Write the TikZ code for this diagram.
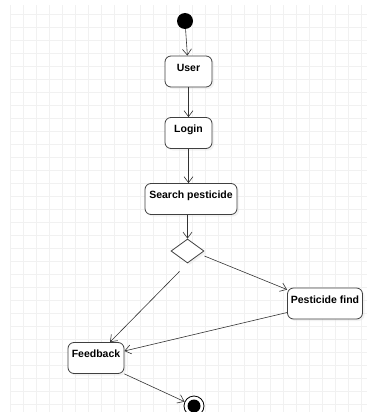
\documentclass[tikz,border=0pt]{standalone}
\usepackage{fontspec}
\setmainfont{Liberation Sans}
\usepackage{tikz}
\usetikzlibrary{arrows.meta,positioning,shapes.geometric,calc,shadows}

\begin{document}
\begin{tikzpicture}[x=1pt, y=-1pt,
    act/.style={rectangle, rounded corners=6pt, draw=black!75, thick, fill=white, minimum width=47pt, text height=11pt, text depth=12pt, inner ysep=4pt, inner xsep=2pt, font=\fontsize{10.5}{12}\selectfont\bfseries, drop shadow={shadow xshift=2pt, shadow yshift=-2pt, fill=gray!20}},
    branch/.style={diamond, draw=black!75, thick, fill=white, minimum width=33pt, minimum height=24pt, inner sep=0pt, drop shadow={shadow xshift=2pt, shadow yshift=-2pt, fill=gray!20}},
    startnode/.style={circle, fill=black, minimum size=16pt, inner sep=0pt},
    endnode/.style={circle, draw=black, thick, fill=white, minimum size=20pt, inner sep=0pt, path picture={\fill[black] (path picture bounding box.center) circle (6.5pt);}},
    arrow/.style={-{Straight Barb[length=6pt, width=9pt]}, draw=black!80, semithick}
]
\useasboundingbox (0,0) rectangle (367,412);
% background grid
\foreach \gx in {10,23,...,367}{\draw[gray!11, line width=0.6pt] (\gx,5) -- (\gx,412);}
\foreach \gy in {14,27,...,412}{\draw[gray!11, line width=0.6pt] (10,\gy) -- (367,\gy);}

\node[startnode] (start) at (185,21) {};
\node[act] (user)   at (188.5,71.5) {User};
\node[act] (login)  at (188.5,133)  {Login};
\node[act, minimum width=92pt] (search) at (191,199) {Search pesticide};
\node[branch] (diam) at (187.5,251) {};
\node[act, minimum width=75pt] (pfind) at (325,303.5) {Pesticide find};
\node[act, minimum width=56pt] (feed)  at (96,358) {Feedback};
\node[endnode] (end) at (194,406) {};

\foreach \a/\b in {start/user,user/login}{\draw[arrow] (\a) -- (\b);}
\draw[arrow] (login.south) -- (login.south |- search.north);
\draw[arrow] (diam |- search.south) -- (diam.north);
\draw[arrow] ([yshift=-5pt]diam.east) -- ([yshift=-2pt]pfind.north west);
\draw[arrow] ([xshift=-8pt,yshift=-8pt]diam.south) -- ([xshift=14pt]feed.north);
\draw[arrow] ([yshift=-9pt]pfind.west) -- ([yshift=7pt]feed.east);
\draw[arrow] (feed.south east) -- (end);
\end{tikzpicture}
\end{document}
